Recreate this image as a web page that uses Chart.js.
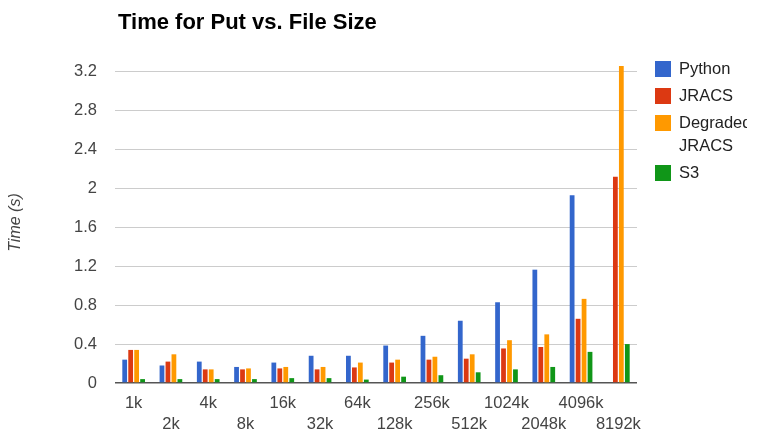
<!DOCTYPE html>
<html>
<head>
<meta charset="utf-8">
<title>Time for Put vs. File Size</title>
<script src="https://cdn.jsdelivr.net/npm/chart.js@4/dist/chart.umd.min.js"></script>
<style>
  html, body { margin: 0; padding: 0; background: #fff; }
  #wrap { width: 764px; height: 433px; }
</style>
</head>
<body>
<div id="wrap"><canvas id="chart" width="764" height="433"></canvas></div>
<script>
// File sizes tested
const categories = ['1k', '2k', '4k', '8k', '16k', '32k', '64k', '128k', '256k', '512k', '1024k', '2048k', '4096k', '8192k'];

// Put times in seconds for each backend
const python   = [0.24, 0.18, 0.22, 0.165, 0.21, 0.28, 0.28, 0.385, 0.485, 0.64, 0.83, 1.165, 1.93, null];
const jracs    = [0.34, 0.22, 0.14, 0.14, 0.15, 0.14, 0.16, 0.21, 0.24, 0.25, 0.355, 0.37, 0.66, 2.12];
const degraded = [0.34, 0.295, 0.14, 0.15, 0.165, 0.165, 0.21, 0.24, 0.27, 0.295, 0.44, 0.50, 0.865, 3.26];
const s3       = [0.04, 0.04, 0.04, 0.04, 0.05, 0.05, 0.035, 0.065, 0.08, 0.11, 0.14, 0.165, 0.32, 0.40];

const yTicks = [0, 0.4, 0.8, 1.2, 1.6, 2, 2.4, 2.8, 3.2];

const seriesNames = ['Python', 'JRACS', ['Degraded', 'JRACS'], 'S3'];
const seriesColors = ['#3366cc', '#dc3912', '#ff9900', '#109618'];
const seriesData = [python, jracs, degraded, s3];

const FONT = '"Liberation Sans", Arial, sans-serif';

// Title drawn above the plot, left-aligned near the plot edge
const titlePlugin = {
  id: 'leftTitle',
  afterDraw(chart) {
    const ctx = chart.ctx;
    ctx.save();
    ctx.font = 'bold 22px ' + FONT;
    ctx.fillStyle = '#000';
    ctx.textBaseline = 'middle';
    ctx.textAlign = 'left';
    ctx.fillText('Time for Put vs. File Size', 118, 23);
    ctx.restore();
  }
};

// Legend on the right, with wrapped names, clipped to its box
const sideLegend = {
  id: 'sideLegend',
  afterDraw(chart) {
    const ctx = chart.ctx;
    const x0 = chart.chartArea.right + 18;
    let y = 69;
    ctx.save();
    ctx.beginPath();
    ctx.rect(x0 - 2, 0, 747 - (x0 - 2), chart.height);
    ctx.clip();
    ctx.font = '16.5px ' + FONT;
    ctx.textBaseline = 'middle';
    ctx.textAlign = 'left';
    chart.data.datasets.forEach((ds, i) => {
      const lines = [].concat(seriesNames[i]);
      ctx.fillStyle = ds.backgroundColor;
      ctx.fillRect(x0, y - 8, 16, 16);
      ctx.fillStyle = '#222';
      lines.forEach((line, k) => ctx.fillText(line, x0 + 24, y + k * 23));
      y += 27 + (lines.length - 1) * 23;
    });
    ctx.restore();
  }
};

new Chart(document.getElementById('chart'), {
  type: 'bar',
  data: {
    labels: categories,
    datasets: seriesData.map((values, i) => ({
      label: [].concat(seriesNames[i]).join(' '),
      data: values,
      backgroundColor: seriesColors[i],
      categoryPercentage: 0.64,
      barPercentage: 0.8
    }))
  },
  options: {
    responsive: false,
    animation: false,
    layout: { padding: { left: 0, right: 127, top: 62, bottom: 0 } },
    plugins: {
      legend: { display: false },
      title: { display: false },
      tooltip: { enabled: false }
    },
    scales: {
      x: {
        grid: { display: false, drawTicks: false },
        border: { display: false },
        ticks: {
          autoSkip: false,
          maxRotation: 0,
          padding: 9,
          color: '#444',
          font: { family: FONT, size: 16.5, lineHeight: 1.33 },
          callback: function (value, index) {
            const name = categories[index];
            return index % 2 === 0 ? [name, ''] : ['', name];
          }
        },
        afterFit(scale) { scale.height = 50; }
      },
      y: {
        min: 0,
        max: 3.3,
        grid: {
          drawTicks: false,
          color: ctx => (ctx.tick && ctx.tick.value === 0 ? '#555' : '#cccccc'),
          lineWidth: ctx => (ctx.tick && ctx.tick.value === 0 ? 1.5 : 1)
        },
        border: { display: false },
        afterBuildTicks(scale) {
          scale.ticks = yTicks.map(v => ({ value: v }));
        },
        ticks: {
          padding: 18,
          color: '#444',
          font: { family: FONT, size: 16.5 },
          callback: v => String(Math.round(v * 10) / 10)
        },
        title: {
          display: true,
          text: 'Time (s)',
          color: '#444',
          padding: { top: 6, bottom: 0 },
          font: { family: FONT, size: 16, style: 'italic' }
        },
        afterFit(scale) { scale.width = 115; }
      }
    }
  },
  plugins: [titlePlugin, sideLegend]
});
</script>
</body>
</html>
